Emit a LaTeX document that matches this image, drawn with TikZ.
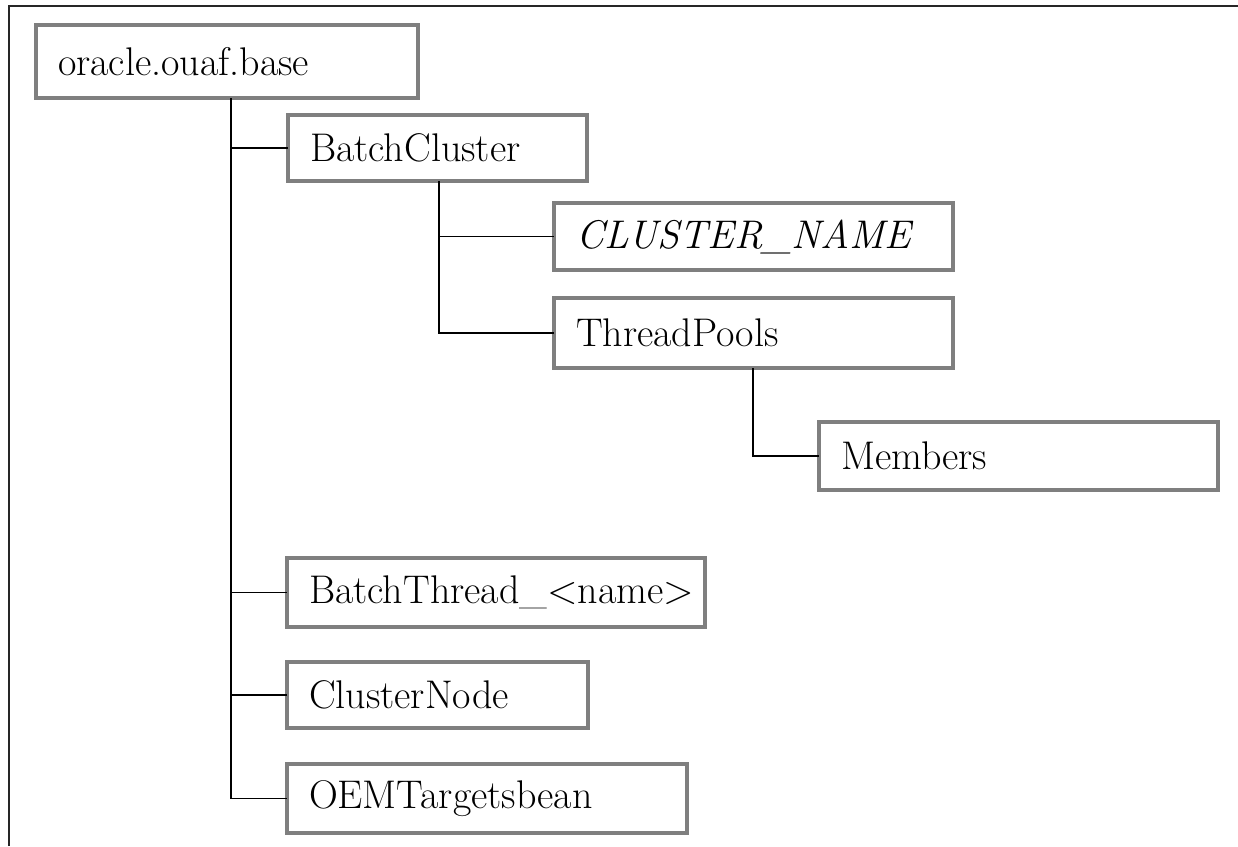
\documentclass[tikz,border=0pt]{standalone}
\usepackage{fontspec}
\usetikzlibrary{positioning}
\definecolor{boxgray}{HTML}{7F7F7F}

\begin{document}
\begin{tikzpicture}[x=1pt, y=-1pt,
    treebox/.style={rectangle, draw=boxgray, line width=3.8pt, anchor=north west, outer sep=0pt,
      inner xsep=22pt, inner ysep=0pt, minimum height=68pt, align=left,
      font=\fontsize{40}{46}\selectfont},
    link/.style={draw=black, line width=1.6pt},
    frame/.style={draw=black!85, line width=2.5pt}]
  \useasboundingbox (0,0) rectangle (1238,846);

  % page frame
  \draw[frame] (9,846) -- (9,6) -- (1238,6);

  % Nodes with absolute positioning
  \node[treebox, minimum height=73pt, text width=338pt] (base) at (36,25) {oracle.ouaf.base};
  \node[treebox, minimum height=66pt, text width=255pt] (cluster) at (288,115) {BatchCluster};
  \node[treebox, minimum height=67pt, text width=355pt] (cname) at (554,203) {\textit{CLUSTER\_NAME}};
  \node[treebox, minimum height=70pt, text width=355pt] (pools) at (554,298) {ThreadPools};
  \node[treebox, text width=355pt] (members) at (819,422) {Members};
  \node[treebox, minimum height=69pt, text width=374pt] (thread) at (287,558) {BatchThread\_\textless{}name\textgreater};
  \node[treebox, minimum height=66pt, text width=257pt] (cnode) at (287,662) {ClusterNode};
  \node[treebox, minimum height=69pt, text width=356pt] (oem) at (287,764) {OEMTargetsbean};

  % Tree lines
  \draw[link] ([xshift=195pt]base.south west) |- (oem.west);
  \draw[link] ([xshift=195pt]base.south west) |- (cluster.west);
  \draw[link] ([xshift=195pt]base.south west) |- (thread.west);
  \draw[link] ([xshift=195pt]base.south west) |- (cnode.west);
  \draw[link] ([xshift=151pt]cluster.south west) |- (cname.west);
  \draw[link] ([xshift=151pt]cluster.south west) |- (pools.west);
  \draw[link] ([xshift=199pt]pools.south west) |- (members.west);
\end{tikzpicture}
\end{document}
